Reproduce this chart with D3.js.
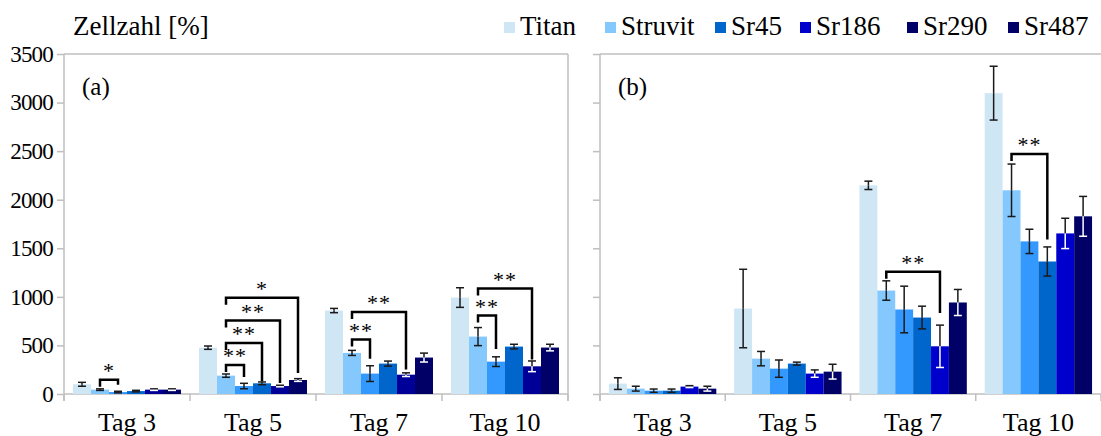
<!DOCTYPE html>
<html>
<head>
<meta charset="UTF-8">
</head>
<body style="margin:0">
<script src="https://d3js.org/d3.v7.min.js"></script>
<script>
// categories and series
var days = ["Tag 3", "Tag 5", "Tag 7", "Tag 10"];
var series = ["Titan", "Struvit", "Sr45", "Sr186", "Sr290", "Sr487"];
var yTicks = [0, 500, 1000, 1500, 2000, 2500, 3000, 3500];

var legendColors = ["#cfe6f5", "#85c8fd", "#0066cc", "#0000cc", "#000066", "#000066"];
var barColorsA = ["#cfe6f5", "#85c8fd", "#3399ff", "#0066cc", "#000099", "#000066"];
var barColorsB = ["#cfe6f5", "#85c8fd", "#3399ff", "#0066cc", "#0000cc", "#000066"];

// panel (a): mean and error per day (rows) and series (columns)
var meansA = [[100, 45, 20, 30, 45, 45],
              [477, 189, 82, 110, 82, 144],
              [859, 423, 210, 313, 199, 375],
              [993, 591, 333, 488, 285, 478]];
var errA   = [[20, 8, 8, 8, 8, 8],
              [17, 17, 28, 14, 8, 14],
              [22, 26, 81, 26, 19, 46],
              [101, 93, 50, 24, 55, 34]];

// panel (b)
var meansB = [[107, 55, 34, 34, 76, 55],
              [880, 364, 261, 313, 210, 230],
              [2148, 1065, 870, 787, 491, 942],
              [3097, 2097, 1571, 1364, 1653, 1829]];
var errB   = [[60, 25, 17, 17, 10, 25],
              [404, 74, 89, 15, 38, 76],
              [43, 100, 240, 117, 218, 134],
              [277, 270, 125, 150, 156, 205]];

// significance brackets: day index, from / to series index, bracket level and leg end (in %)
var sigA = [
  {day: 0, from: 1, to: 2, level: 147, end: 96, label: "*"},
  {day: 1, from: 1, to: 2, level: 299, end: 175, label: "**"},
  {day: 1, from: 1, to: 3, level: 526, end: 130, label: "**"},
  {day: 1, from: 1, to: 4, level: 756, end: 113, label: "**"},
  {day: 1, from: 1, to: 5, level: 990, end: 217, label: "*"},
  {day: 2, from: 1, to: 2, level: 560, end: 364, label: "**"},
  {day: 2, from: 1, to: 4, level: 845, end: 251, label: "**"},
  {day: 3, from: 1, to: 2, level: 807, end: 464, label: "**"},
  {day: 3, from: 1, to: 4, level: 1086, end: 354, label: "**"}
];
var sigB = [
  {day: 2, from: 1, to: 4, level: 1258, end: 835, label: "**"},
  {day: 3, from: 1, to: 3, level: 2470, end: 1591, label: "**"}
];

var FONT = "'Times New Roman'";
var GREY = "#bfbfbf";
var W = 1101, H = 436;
var svg = d3.select("body").append("svg")
    .attr("width", W)
    .attr("height", H);

var y = d3.scaleLinear()
    .domain([0, 3500])
    .range([394, 54]);

function label(sel, size) {
    return sel.style("font-family", FONT)
        .style("font-size", size + "px");
}

var panels = [
  {left: 64, right: 568, means: meansA, errs: errA, colors: barColorsA, sig: sigA, tag: "(a)", labels: true, border: true},
  {left: 600, right: 1101, means: meansB, errs: errB, colors: barColorsB, sig: sigB, tag: "(b)", labels: false, border: false}
];

panels.forEach(function(p) {
    var x0 = d3.scaleBand()
        .domain(days)
        .range([p.left, p.right]);

    var x1 = d3.scaleBand()
        .domain(series)
        .range([0, x0.bandwidth()])
        .paddingOuter(0.5);

    var g = svg.append("g");

    // top border line
    g.append("line")
        .attr("x1", p.left).attr("x2", p.right)
        .attr("y1", y(3500)).attr("y2", y(3500))
        .attr("stroke", GREY).attr("stroke-width", 1.5);
    if (p.border) {
        g.append("line")
            .attr("x1", p.right).attr("x2", p.right)
            .attr("y1", y(3500)).attr("y2", y(0) + 7)
            .attr("stroke", GREY).attr("stroke-width", 1.5);
    }

    // y axis
    var yAxis = d3.axisLeft(y)
        .tickValues(yTicks)
        .tickSize(7)
        .tickPadding(4)
        .tickSizeOuter(0)
        .tickFormat(p.labels ? d3.format("d") : "");

    var ya = g.append("g")
        .attr("transform", "translate(" + p.left + ",0)")
        .call(yAxis);
    ya.attr("font-family", null).attr("font-size", null);
    ya.select(".domain").attr("d", "M0," + (y(0) + 7) + "V" + y(3500));
    ya.selectAll("path, line").attr("stroke", GREY).attr("stroke-width", 1.5);
    label(ya.selectAll("text"), 23).attr("fill", "#000").style("letter-spacing", "-0.8px");

    // x axis (labels centred, ticks on group boundaries)
    var xa = g.append("g")
        .attr("transform", "translate(0," + y(0) + ")")
        .call(d3.axisBottom(x0).tickSize(0).tickPadding(19).tickSizeOuter(0));
    xa.attr("font-family", null).attr("font-size", null);
    xa.select(".domain").attr("d", "M" + p.left + ",0H" + p.right);
    var bounds = days.map(function(d) { return x0(d); }).concat([p.right]);
    xa.selectAll(".bound")
        .data(bounds)
        .enter().append("line")
        .attr("class", "bound")
        .attr("x1", function(d) { return d; })
        .attr("x2", function(d) { return d; })
        .attr("y1", 0).attr("y2", 7);
    xa.selectAll("path, line").attr("stroke", GREY).attr("stroke-width", 1.5);
    label(xa.selectAll("text"), 26).attr("fill", "#000");

    // bars
    var groups = g.selectAll(".day")
        .data(days)
        .enter().append("g")
        .attr("class", "day")
        .attr("transform", function(d) { return "translate(" + x0(d) + ",0)"; });

    groups.each(function(day, di) {
        var dg = d3.select(this);
        var rows = series.map(function(s, si) {
            return {s: s, si: si, v: p.means[di][si], e: p.errs[di][si]};
        });

        dg.selectAll("rect")
            .data(rows)
            .enter().append("rect")
            .attr("x", function(d) { return x1(d.s); })
            .attr("width", x1.bandwidth())
            .attr("y", function(d) { return y(d.v); })
            .attr("height", function(d) { return y(0) - y(d.v); })
            .attr("fill", function(d) { return p.colors[d.si]; });

        // error bars: on the dark bars the part inside the bar is white
        rows.forEach(function(d) {
            var cx = x1(d.s) + x1.bandwidth() / 2;
            var lowCol = d.si >= 4 ? "#ffffff" : "#1a1a1a";
            var hiCol = "#1a1a1a";
            var lo = Math.max(0, d.v - d.e);
            dg.append("line")
                .attr("x1", cx).attr("x2", cx)
                .attr("y1", y(d.v)).attr("y2", y(d.v + d.e))
                .attr("stroke", hiCol).attr("stroke-width", 1.5);
            dg.append("line")
                .attr("x1", cx - 4).attr("x2", cx + 4)
                .attr("y1", y(d.v + d.e)).attr("y2", y(d.v + d.e))
                .attr("stroke", hiCol).attr("stroke-width", 1.5);
            dg.append("line")
                .attr("x1", cx).attr("x2", cx)
                .attr("y1", y(d.v)).attr("y2", y(lo))
                .attr("stroke", lowCol).attr("stroke-width", 1.5);
            dg.append("line")
                .attr("x1", cx - 4).attr("x2", cx + 4)
                .attr("y1", y(lo)).attr("y2", y(lo))
                .attr("stroke", lowCol).attr("stroke-width", 1.5);
        });
    });

    // significance brackets
    p.sig.forEach(function(b) {
        var base = x0(days[b.day]);
        var xa1 = base + x1(series[b.from]) + x1.bandwidth() / 2;
        var xa2 = base + x1(series[b.to]) + x1.bandwidth() / 2;
        var yl = y(b.level);
        g.append("path")
            .attr("d", "M" + xa1 + "," + (yl + 7) + "V" + yl + "H" + xa2 + "V" + y(b.end))
            .attr("fill", "none")
            .attr("stroke", "#000")
            .attr("stroke-width", 2.5);
        label(g.append("text"), 22)
            .attr("x", (xa1 + xa2) / 2)
            .attr("y", yl - 2)
            .attr("text-anchor", "middle")
            .style("letter-spacing", "1px")
            .text(b.label);
    });

    // panel tag
    label(g.append("text"), 25)
        .attr("x", p.left + 18)
        .attr("y", 95)
        .text(p.tag);
});

// y axis title
label(svg.append("text"), 27)
    .attr("x", 73)
    .attr("y", 35)
    .text("Zellzahl [%]");

// legend (item positions taken from the reference layout)
var legendX = [504, 605, 715, 800, 907, 1008];
series.forEach(function(s, i) {
    svg.append("rect")
        .attr("x", legendX[i]).attr("y", 22)
        .attr("width", 11).attr("height", 11)
        .attr("fill", legendColors[i]);
    label(svg.append("text"), 27)
        .attr("x", legendX[i] + 16)
        .attr("y", 35)
        .text(s);
});
</script>
</body>
</html>
